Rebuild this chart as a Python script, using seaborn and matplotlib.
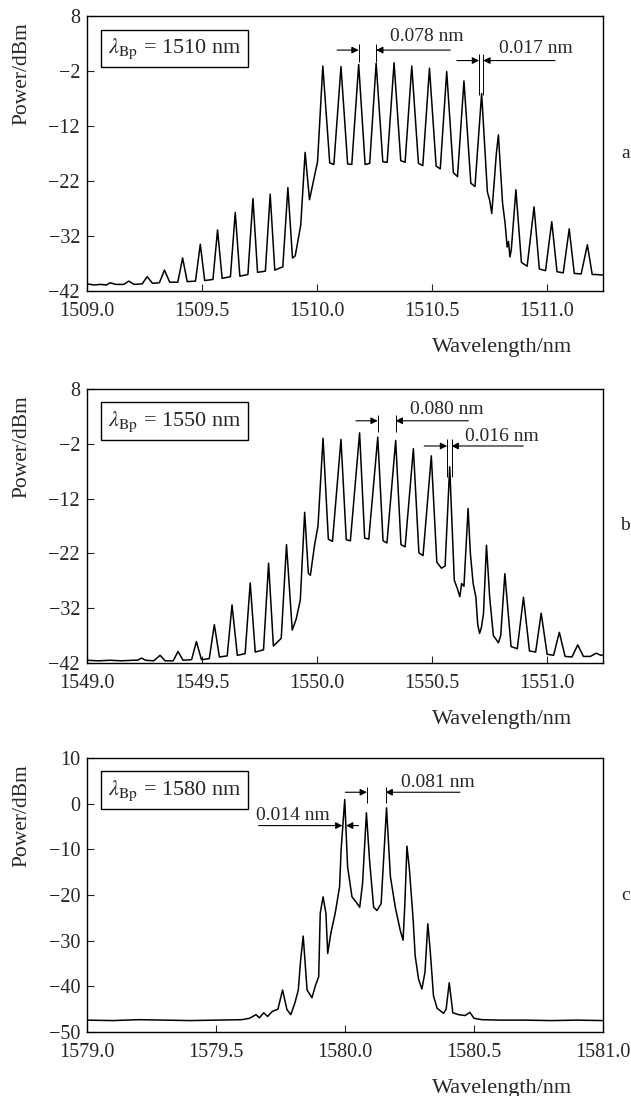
import pandas as pd
import matplotlib
matplotlib.use("Agg")
import matplotlib.pyplot as plt
import seaborn as sns

# ---- spectrum a (lambda_Bp = 1510 nm): peak tips and trough points
a_peak_wl = [1509.101, 1509.182, 1509.262, 1509.337, 1509.416, 1509.493, 1509.568,
             1509.645, 1509.722, 1509.797, 1509.874, 1509.949, 1510.026, 1510.105,
             1510.182, 1510.258, 1510.336, 1510.413, 1510.490, 1510.565, 1510.640,
             1510.717, 1510.790, 1510.866, 1510.945, 1511.022, 1511.098, 1511.177]
a_peak_db = [-40.5, -40.2, -39.4, -38.2, -36.0, -33.5, -30.9, -27.7, -25.2, -24.4,
             -23.2, -16.8, -1.1, -1.2, -0.8, -0.6, -0.5, -1.1, -1.5, -2.1, -3.8,
             -6.1, -13.6, -23.6, -26.7, -29.4, -30.7, -33.6]
a_dip_wl = [1509.000, 1509.030, 1509.060, 1509.085, 1509.125, 1509.160, 1509.205, 1509.240,
            1509.285, 1509.315, 1509.360, 1509.395, 1509.436, 1509.472, 1509.512, 1509.548,
            1509.588, 1509.624, 1509.665, 1509.700, 1509.742, 1509.776, 1509.817, 1509.852,
            1509.894, 1509.906, 1509.930, 1509.968, 1510.003, 1510.056, 1510.074, 1510.134,
            1510.152, 1510.210, 1510.230, 1510.287, 1510.306, 1510.365, 1510.384, 1510.442,
            1510.461, 1510.519, 1510.537, 1510.594, 1510.612, 1510.670, 1510.688, 1510.742,
            1510.752, 1510.761, 1510.772, 1510.781, 1510.800, 1510.808, 1510.819, 1510.828,
            1510.834, 1510.840, 1510.846, 1510.890, 1510.915, 1510.968, 1510.995, 1511.045,
            1511.072, 1511.120, 1511.150, 1511.198, 1511.215, 1511.245]
a_dip_db = [-40.7, -40.9, -40.8, -40.9, -40.8, -40.8, -40.8, -40.7, -40.6, -40.5, -40.4, -40.4,
            -40.3, -40.2, -40.1, -39.9, -39.7, -39.4, -39.3, -39.0, -38.6, -38.4, -38.2, -37.6,
            -36.0, -35.6, -30.0, -25.4, -18.5, -18.7, -19.0, -18.9, -19.0, -19.0, -18.8, -18.5,
            -18.6, -18.3, -18.6, -18.8, -19.2, -19.3, -19.8, -20.5, -21.2, -22.4, -23.0, -24.0,
            -25.5, -27.9, -22.0, -17.0, -20.6, -26.0, -29.7, -34.0, -33.0, -35.8, -34.5, -36.8,
            -37.5, -38.0, -38.3, -38.5, -38.7, -38.8, -38.9, -39.0, -39.0, -39.1]

# ---- spectrum b (lambda_Bp = 1550 nm)
b_peak_wl = [1549.237, 1549.318, 1549.396, 1549.476, 1549.554, 1549.631, 1549.710,
             1549.790, 1549.868, 1549.947, 1550.027, 1550.105, 1550.186, 1550.265,
             1550.343, 1550.420, 1550.498, 1550.578, 1550.658, 1550.738, 1550.818,
             1550.899, 1550.976, 1551.055, 1551.135, 1551.216]
b_peak_db = [-41.1, -40.6, -39.9, -38.1, -35.0, -31.4, -27.4, -23.8, -20.4, -14.5, -1.0,
             -1.2, 0.0, -0.8, -1.4, -2.9, -4.2, -6.2, -13.8, -20.5, -25.7, -30.0, -32.9,
             -36.4, -38.7, -40.2]
b_dip_wl = [1549.000, 1549.050, 1549.100, 1549.150, 1549.200, 1549.220, 1549.255, 1549.290,
            1549.340, 1549.375, 1549.418, 1549.455, 1549.498, 1549.532, 1549.576, 1549.610,
            1549.654, 1549.688, 1549.732, 1549.768, 1549.811, 1549.845, 1549.893, 1549.910,
            1549.928, 1549.963, 1549.972, 1549.990, 1550.005, 1550.050, 1550.068, 1550.128,
            1550.146, 1550.208, 1550.226, 1550.288, 1550.305, 1550.366, 1550.384, 1550.444,
            1550.462, 1550.522, 1550.542, 1550.558, 1550.598, 1550.612, 1550.622, 1550.630,
            1550.640, 1550.668, 1550.680, 1550.692, 1550.700, 1550.708, 1550.716, 1550.725,
            1550.752, 1550.768, 1550.790, 1550.800, 1550.845, 1550.872, 1550.925, 1550.952,
            1551.002, 1551.030, 1551.080, 1551.110, 1551.160, 1551.190, 1551.235, 1551.245]
b_dip_db = [-41.5, -41.6, -41.5, -41.6, -41.5, -41.5, -41.5, -41.6, -41.6, -41.6, -41.5, -41.4,
            -41.4, -41.2, -40.9, -40.7, -40.6, -40.3, -40.0, -39.6, -38.9, -37.5, -36.0, -34.0,
            -30.5, -25.6, -26.0, -20.5, -17.0, -19.4, -19.8, -19.5, -19.7, -19.2, -19.4, -19.7,
            -20.1, -20.4, -20.8, -21.9, -22.4, -23.6, -24.7, -24.3, -26.9, -28.5, -29.9, -27.5,
            -28.0, -22.0, -27.5, -30.0, -35.0, -36.6, -35.5, -33.0, -30.0, -37.0, -38.3, -37.0,
            -39.0, -39.4, -39.8, -40.0, -40.4, -40.6, -40.8, -40.9, -40.8, -40.8, -40.6, -40.5]

# ---- spectrum c (lambda_Bp = 1580 nm)
c_peak_wl = [1579.758, 1579.838, 1579.915, 1579.999, 1580.083, 1580.161, 1580.240,
             1580.321, 1580.404, 1580.484]
c_peak_db = [-40.8, -29.0, -20.4, 0.9, -2.0, -0.9, -9.3, -26.3, -39.2, -45.7]
c_dip_wl = [1579.000, 1579.100, 1579.200, 1579.300, 1579.400, 1579.500, 1579.600, 1579.630,
            1579.655, 1579.668, 1579.685, 1579.700, 1579.718, 1579.740, 1579.775, 1579.790,
            1579.806, 1579.819, 1579.828, 1579.853, 1579.872, 1579.885, 1579.898, 1579.904,
            1579.926, 1579.933, 1579.945, 1579.962, 1579.979, 1579.985, 1580.010, 1580.027,
            1580.044, 1580.057, 1580.068, 1580.095, 1580.111, 1580.124, 1580.140, 1580.176,
            1580.195, 1580.214, 1580.225, 1580.232, 1580.250, 1580.264, 1580.272, 1580.285,
            1580.298, 1580.310, 1580.330, 1580.343, 1580.357, 1580.382, 1580.392, 1580.418,
            1580.440, 1580.465, 1580.500, 1580.530, 1580.600, 1580.700, 1580.800, 1580.900,
            1581.000]
c_dip_db = [-47.4, -47.5, -47.3, -47.4, -47.5, -47.4, -47.3, -47.0, -46.2, -46.9, -45.8, -46.6,
            -45.5, -45.0, -45.1, -46.2, -43.6, -40.8, -34.3, -40.8, -42.5, -39.9, -37.9, -24.0,
            -24.0, -32.8, -28.4, -24.0, -18.2, -10.0, -13.8, -20.4, -21.6, -22.7, -17.5, -12.3,
            -22.7, -23.4, -21.9, -16.0, -22.7, -27.7, -29.9, -22.0, -14.6, -25.3, -33.3, -38.4,
            -40.6, -36.9, -32.0, -42.1, -44.8, -45.9, -45.0, -45.8, -46.2, -46.4, -47.0, -47.3,
            -47.4, -47.4, -47.5, -47.4, -47.5]

# axis settings per panel
xlims = [(1509.0, 1511.245), (1549.0, 1551.245), (1579.0, 1581.0)]
xticks = [[1509.0, 1509.5, 1510.0, 1510.5, 1511.0],
          [1549.0, 1549.5, 1550.0, 1550.5, 1551.0],
          [1579.0, 1579.5, 1580.0, 1580.5, 1581.0]]
ylims = [(-42, 8), (-42, 8), (-50, 10)]
yticks = [[8, -2, -12, -22, -32, -42], [8, -2, -12, -22, -32, -42],
          [10, 0, -10, -20, -30, -40, -50]]
bragg = ["1510", "1550", "1580"]
letters = ["a", "b", "c"]

# spacing marks: (peak1, peak2, arrow y, left start, right start, vline y-range, label, label x, label y)
gaps = [
    [(1510.182, 1510.258, 1.8, 1510.088, 1510.580, (-0.3, 3.0), "0.078 nm", 1510.478, 4.3),
     (1510.706, 1510.724, -0.1, 1510.609, 1511.036, (-6.4, 1.1), "0.017 nm", 1510.954, 2.1)],
    [(1550.265, 1550.343, 2.2, 1550.170, 1550.659, (0.2, 3.3), "0.080 nm", 1550.565, 4.3),
     (1550.567, 1550.586, -2.4, 1550.467, 1550.898, (-8.0, -1.2), "0.016 nm", 1550.804, -0.6)],
    [(1580.085, 1580.157, 2.5, 1580.001, 1580.445, (0.1, 3.7), "0.081 nm", 1580.359, 4.6),
     (1579.990, 1580.004, -4.8, 1579.665, 1580.053, None, "0.014 nm", 1579.798, -2.5)],
]

traces = [(a_peak_wl, a_peak_db, a_dip_wl, a_dip_db),
          (b_peak_wl, b_peak_db, b_dip_wl, b_dip_db),
          (c_peak_wl, c_peak_db, c_dip_wl, c_dip_db)]

sns.set_theme(style="white")
plt.rcParams["font.family"] = ["Liberation Serif", "DejaVu Serif"]
plt.rcParams["mathtext.fontset"] = "stix"
plt.rcParams["axes.unicode_minus"] = True

W, H = 631, 1096
fig = plt.figure(figsize=(W / 100, H / 100), dpi=100)

# axes boxes in pixels: (top, bottom)
boxes = [(16, 291), (389, 663), (758, 1032)]
left_px, right_px = 87, 603

for i, (top, bot) in enumerate(boxes):
    ax = fig.add_axes([left_px / W, 1 - bot / H, (right_px - left_px) / W, (bot - top) / H])

    pk_wl, pk_db, dp_wl, dp_db = traces[i]
    df = pd.DataFrame({"wl": list(pk_wl) + list(dp_wl), "db": list(pk_db) + list(dp_db)})
    df = df.sort_values("wl")
    sns.lineplot(data=df, x="wl", y="db", ax=ax, color="black", lw=1.1,
                 estimator=None, sort=True)

    ax.set_xlim(*xlims[i])
    ax.set_ylim(*ylims[i])
    ax.set_xticks(xticks[i])
    ax.set_xticklabels([f"{t:.1f}" for t in xticks[i]])
    ax.set_yticks(yticks[i])
    ax.set_yticklabels([f"{t:d}".replace("-", "\u2212") for t in yticks[i]])
    ax.tick_params(direction="in", length=5, width=0.8, labelsize=14.5,
                   bottom=True, left=True, top=False, right=False)
    ax.tick_params(axis="x", pad=8)
    ax.tick_params(axis="y", pad=5)
    for s in ax.spines.values():
        s.set_linewidth(1.0)
        s.set_color("black")
    ax.set_xlabel("")
    ax.set_ylabel("")

    ax.text(-0.126, 0.79, "Power/dBm", transform=ax.transAxes, rotation=90,
            ha="center", va="center", fontsize=15.5)
    ax.text(0.804, -0.206, "Wavelength/nm", transform=ax.transAxes,
            ha="center", va="center", fontsize=16)
    ax.text(1.043, 0.5, letters[i], transform=ax.transAxes,
            ha="center", va="center", fontsize=14)
    ax.text(0.17, 0.882, r"$\lambda_{\mathrm{Bp}}$ = " + bragg[i] + " nm",
            transform=ax.transAxes, ha="center", va="center", fontsize=16,
            bbox=dict(boxstyle="square,pad=0.3", fc="white", ec="black", lw=1.0))

    for p1, p2, ya, xl, xr, vr, lab, tx, ty in gaps[i]:
        arr = dict(arrowstyle="-|>", color="black", lw=0.8, mutation_scale=10,
                   shrinkA=0, shrinkB=0)
        ax.annotate("", xy=(p1, ya), xytext=(xl, ya), arrowprops=arr)
        ax.annotate("", xy=(p2, ya), xytext=(xr, ya), arrowprops=arr)
        if vr is not None:
            ax.vlines([p1, p2], vr[0], vr[1], color="black", lw=0.7)
        ax.text(tx, ty, lab, ha="center", va="center", fontsize=14)

fig.savefig("out.png", dpi=100)
